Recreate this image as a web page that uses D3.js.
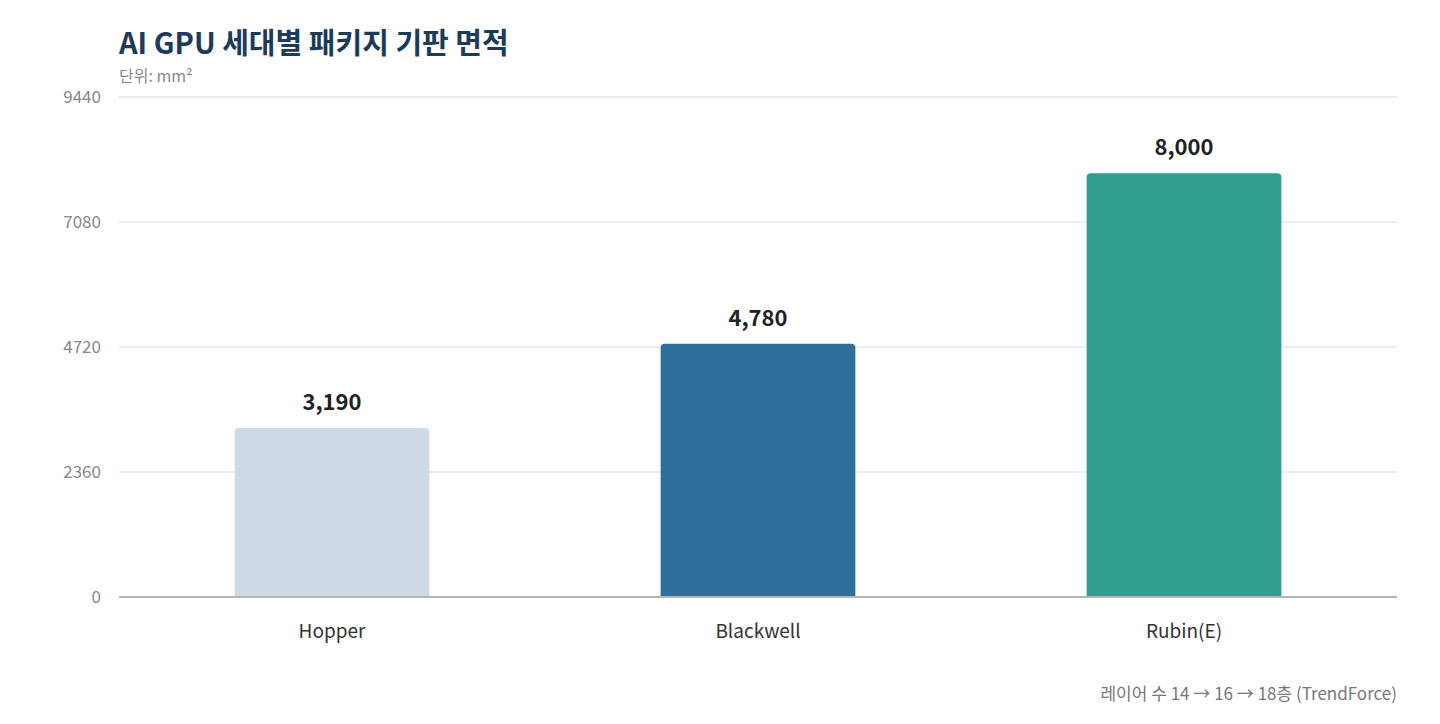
<!DOCTYPE html>
<html>
<head>
<meta charset="utf-8">
<script src="https://cdnjs.cloudflare.com/ajax/libs/d3/7.8.5/d3.min.js"></script>
<style>
  body { margin: 0; background: #fff; }
  text { font-family: "Noto Sans CJK KR", "Noto Sans", sans-serif; }
</style>
</head>
<body>
<svg></svg>
<script>
var categories = ["Hopper", "Blackwell", "Rubin(E)"];
var values = [3190, 4780, 8000];
var colors = ["#cdd9e5", "#2f6f9c", "#2e9e8e"];
var yTicks = [0, 2360, 4720, 7080, 9440];

var w = 1440, h = 724;
var svg = d3.select("svg").attr("width", w).attr("height", h);

var margin = {left: 119, right: 43, top: 97, bottom: 127};

var x = d3.scaleBand()
  .domain(categories)
  .range([margin.left, w - margin.right])
  .padding(0);
var barw = x.bandwidth() * 0.457;

var y = d3.scaleLinear()
  .domain([0, 9440])
  .range([h - margin.bottom, margin.top]);

// grid
svg.selectAll(".grid")
  .data(yTicks.slice(1))
  .enter().append("line")
  .attr("x1", margin.left).attr("x2", w - margin.right)
  .attr("y1", function(d) { return y(d); })
  .attr("y2", function(d) { return y(d); })
  .attr("stroke", "#e4e7ec").attr("stroke-width", 1.5);

svg.selectAll(".ytick")
  .data(yTicks)
  .enter().append("text")
  .attr("x", 101)
  .attr("y", function(d) { return y(d); })
  .attr("dy", "0.35em")
  .attr("text-anchor", "end")
  .attr("font-size", 17)
  .attr("fill", "#888")
  .text(function(d) { return d; });

// bars with rounded top corners
var r = 4;
svg.selectAll(".bar")
  .data(values)
  .enter().append("path")
  .attr("fill", function(d, i) { return colors[i]; })
  .attr("d", function(d, i) {
    var x0 = x(categories[i]) + (x.bandwidth() - barw) / 2;
    var x1 = x0 + barw, y0 = y(d), yb = y(0);
    return "M" + x0 + "," + yb + "V" + (y0 + r) + "Q" + x0 + "," + y0 + " " + (x0 + r) + "," + y0 +
      "H" + (x1 - r) + "Q" + x1 + "," + y0 + " " + x1 + "," + (y0 + r) + "V" + yb + "Z";
  });

svg.append("line")
  .attr("x1", margin.left).attr("x2", w - margin.right)
  .attr("y1", y(0)).attr("y2", y(0))
  .attr("stroke", "#b5b5b5").attr("stroke-width", 2);

svg.selectAll(".val")
  .data(values)
  .enter().append("text")
  .attr("x", function(d, i) { return x(categories[i]) + x.bandwidth() / 2; })
  .attr("y", function(d) { return y(d) - 18; })
  .attr("text-anchor", "middle")
  .attr("font-size", 22).attr("font-weight", "bold")
  .attr("fill", "#222")
  .text(function(d) { return d3.format(",")(d); });

svg.selectAll(".cat")
  .data(categories)
  .enter().append("text")
  .attr("x", function(d) { return x(d) + x.bandwidth() / 2; })
  .attr("y", 638)
  .attr("text-anchor", "middle")
  .attr("font-size", 19)
  .attr("fill", "#333")
  .text(function(d) { return d; });

svg.append("text")
  .attr("x", 119).attr("y", 54)
  .attr("font-size", 29).attr("font-weight", "bold")
  .attr("fill", "#1b3a5c")
  .text("AI GPU 세대별 패키지 기판 면적");

svg.append("text")
  .attr("x", 119).attr("y", 82)
  .attr("font-size", 16)
  .attr("fill", "#888")
  .text("단위: mm²");

svg.append("text")
  .attr("x", w - margin.right).attr("y", 700)
  .attr("text-anchor", "end")
  .attr("font-size", 17)
  .attr("fill", "#777")
  .text("레이어 수 14 → 16 → 18층 (TrendForce)");
</script>
</body>
</html>
